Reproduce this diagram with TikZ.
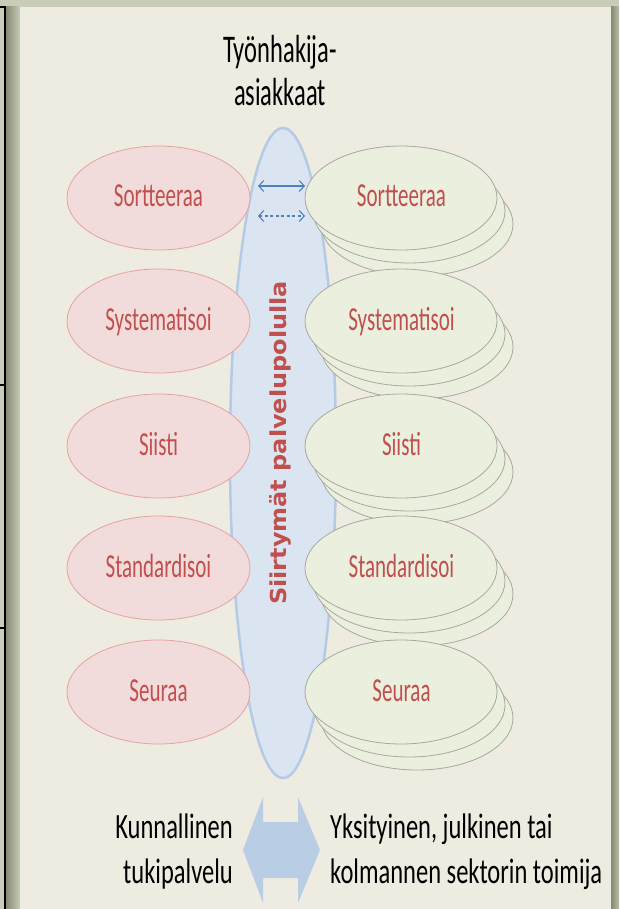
\documentclass[tikz,border=0pt]{standalone}
\usepackage{graphicx}
\usepackage{fontspec}
\setmainfont{Carlito}
\newfontfamily\vtfont{DejaVu Sans}
\usetikzlibrary{arrows.meta,shapes.geometric}
\definecolor{outerbg}{HTML}{C9CDB7}
\definecolor{shadowdk}{HTML}{858B74}
\definecolor{panel}{HTML}{EEEBE0}
\definecolor{pinkfill}{HTML}{F2DCDB}
\definecolor{pinkline}{HTML}{E3A3A3}
\definecolor{greenfill}{HTML}{EBEFDD}
\definecolor{greenline}{HTML}{A8A8A0}
\definecolor{labred}{HTML}{C0504D}
\definecolor{bluefill}{HTML}{DBE5F1}
\definecolor{blueline}{HTML}{B5CAE4}
\definecolor{arrblue}{HTML}{4F81BD}
\definecolor{blockblue}{HTML}{B9CDE5}
\newcommand{\ystr}[2]{\scalebox{1}[#1]{#2}}
\tikzset{
  pinkell/.style={ellipse, draw=pinkline, fill=pinkfill, line width=0.8pt,
    minimum width=183, minimum height=104, inner sep=0pt},
  greenell/.style={ellipse, draw=greenline, fill=greenfill, line width=0.8pt,
    minimum width=192, minimum height=104, inner sep=0pt},
  lbl/.style={text=labred, font=\fontsize{21}{21}\selectfont, inner sep=0pt, anchor=base},
  bigtxt/.style={text=black, font=\fontsize{24.5}{24.5}\selectfont, inner sep=0pt},
  smallarr/.style={draw=arrblue, line width=1.1pt,
    {Straight Barb[length=5pt,width=11pt]}-{Straight Barb[length=5pt,width=11pt]}},
}
\begin{document}
\begin{tikzpicture}[x=1pt,y=-1pt]
\useasboundingbox (0,0) rectangle (619,909);
% background
\fill[outerbg] (0,0) rectangle (619,909);
\shade[left color=shadowdk, right color=outerbg] (6,7) rectangle (20,909);
\shade[left color=shadowdk, right color=outerbg!80!shadowdk] (611,7) rectangle (619,909);
\fill[panel] (20,7) rectangle (611,909);
\draw[line width=2pt] (0,7) -- (5,7) -- (5,909);
\draw[line width=2pt] (0,385) -- (5,385);
\draw[line width=2pt] (0,628) -- (5,628);
% central path
\node[ellipse, draw=blueline, fill=bluefill, line width=2.5pt,
  minimum width=106, minimum height=650, inner sep=0pt] (path) at (283,453) {};
\node[rotate=90, text=labred, inner sep=0pt] (vt) at (280,443)
  {\scalebox{1.09}[1]{\vtfont\bfseries\fontsize{22}{22}\selectfont Siirtymät palvelupolulla}};
% top text
\node[bigtxt, anchor=base] (t1) at (280,63) {\ystr{1.6}{Työnhakija-}};
\node[bigtxt, anchor=base] (t2) at (280,106) {\ystr{1.6}{asiakkaat}};
% rows
\foreach \i/\y/\t in {1/198/Sortteeraa, 2/321/Systematisoi, 3/446/Siisti, 4/568/Standardisoi, 5/692/Seuraa}{
  \node[pinkell] (p\i) at (158.5,\y) {};
  \node[lbl] (pl\i) at (158.5,\y+9) {\ystr{1.6}{\t}};
  \node[greenell] (gc\i) at (417,\y+26) {};
  \node[greenell] (gb\i) at (409,\y+13) {};
  \node[greenell] (g\i) at (401,\y) {};
  \node[lbl] (gl\i) at (401.5,\y+9) {\ystr{1.6}{\t}};
}
% small arrows
\coordinate (a1) at (258,186);
\coordinate (a2) at (305,186);
\coordinate (b1) at (258,216);
\coordinate (b2) at (305,216);
\draw[smallarr] (a1) -- (a2);
\draw[smallarr, dash pattern=on 3pt off 2.5pt] (b1) -- (b2);
% bottom block arrow
\begin{scope}
\clip (0,0) rectangle (619,909);
\fill[blockblue] (243,850) -- (263,797) -- (263,822) -- (298,822) -- (298,797)
  -- (320,850) -- (298,903) -- (298,878) -- (263,878) -- (263,903) -- cycle;
\end{scope}
% bottom texts
\node[bigtxt, anchor=base east] (k1) at (233,838) {\ystr{1.45}{Kunnallinen}};
\node[bigtxt, anchor=base east] (k2) at (233,883) {\ystr{1.45}{tukipalvelu}};
\node[bigtxt, anchor=base west] (y1) at (330,838) {\ystr{1.45}{Yksityinen, julkinen tai}};
\node[bigtxt, anchor=base west] (y2) at (330,883) {\ystr{1.45}{kolmannen sektorin toimija}};
\end{tikzpicture}
\end{document}
